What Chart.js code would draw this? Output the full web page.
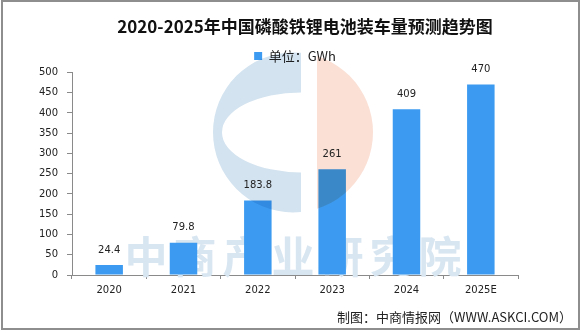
<!DOCTYPE html>
<html>
<head>
<meta charset="utf-8">
<script src="https://cdn.jsdelivr.net/npm/chart.js@4/dist/chart.umd.min.js"></script>
<style>
  body { margin: 0; background: #fff; }
  .wrap { position: relative; width: 587px; height: 334px; }
  .frame { position: absolute; left: 1px; top: 0; width: 579px; height: 330px; box-sizing: border-box; border: 2px solid #8e8e8e; pointer-events: none; }
  .source { position: absolute; right: 15px; top: 307px; font: 13px "Noto Sans CJK SC", sans-serif; color: #222; white-space: nowrap; }
</style>
</head>
<body>
<div class="wrap">
  <canvas id="chart" width="587" height="334"></canvas>
  <div class="frame"></div>
  <div class="source">制图：中商情报网（WWW.ASKCI.COM）</div>
</div>
<script>
const years = ['2020', '2021', '2022', '2023', '2024', '2025E'];
const volume = [24.4, 79.8, 183.8, 261, 409, 470];
const yTicks = [0, 50, 100, 150, 200, 250, 300, 350, 400, 450, 500];

// brand text sits under the bars, the round logo is blended over them
const watermark = {
  id: 'watermark',
  beforeDatasetsDraw(chart) {
    const { ctx, chartArea: a } = chart;
    ctx.save();
    ctx.font = 'bold 43px "Noto Sans CJK SC"';
    ctx.letterSpacing = '6px';
    ctx.textAlign = 'center';
    ctx.textBaseline = 'middle';
    ctx.fillStyle = '#d8e6f1';
    ctx.fillText('中商产业研究院', a.left + 224, a.bottom - 18);
    ctx.restore();
  },
  afterDatasetsDraw(chart) {
    const { ctx, chartArea: a } = chart;
    const cx = a.left + 221, cy = a.top + 60, r = 80;
    ctx.save();
    ctx.globalCompositeOperation = 'multiply';

    ctx.save();
    ctx.beginPath();
    ctx.rect(cx - r - 2, cy - r - 2, r + 10, 2 * r + 4);
    ctx.clip();
    ctx.beginPath();
    ctx.arc(cx, cy, r, 0, Math.PI * 2);
    ctx.ellipse(cx + 8, cy, 79, 40, 0, 0, Math.PI * 2);
    ctx.fillStyle = '#d3e3ef';
    ctx.fill('evenodd');
    ctx.restore();

    ctx.save();
    ctx.beginPath();
    ctx.rect(cx + 24, cy - r - 2, r, 2 * r + 4);
    ctx.clip();
    ctx.beginPath();
    ctx.arc(cx, cy, r, 0, Math.PI * 2);
    ctx.fillStyle = '#fae0d5';
    ctx.fill();
    ctx.restore();

    ctx.restore();
  }
};

// value printed above each bar
const barValues = {
  id: 'barValues',
  afterDatasetsDraw(chart) {
    const { ctx } = chart;
    const meta = chart.getDatasetMeta(0);
    ctx.save();
    ctx.font = '10px "DejaVu Sans"';
    ctx.fillStyle = '#222';
    ctx.textAlign = 'center';
    ctx.textBaseline = 'middle';
    meta.data.forEach((bar, i) => {
      ctx.fillText(String(volume[i]), bar.x, bar.y - 15);
    });
    ctx.restore();
  }
};

// nudge the title a little to the right so it sits over the plot
const titleShift = {
  id: 'titleShift',
  afterLayout(chart) {
    chart.titleBlock.left += 20;
  }
};

new Chart(document.getElementById('chart'), {
  type: 'bar',
  data: {
    labels: years,
    datasets: [{
      label: '单位：GWh',
      data: volume,
      backgroundColor: '#3c9bf0',
      categoryPercentage: 1,
      barPercentage: 0.37
    }]
  },
  options: {
    responsive: false,
    animation: false,
    layout: { padding: { left: 22, right: 69, top: 0, bottom: 29 } },
    plugins: {
      title: {
        display: true,
        fullSize: false,
        text: '2020-2025年中国磷酸铁锂电池装车量预测趋势图',
        color: '#111',
        font: { family: '"Noto Sans CJK SC"', size: 17, weight: 'bold' },
        padding: { top: 16, bottom: 10 }
      },
      legend: {
        fullSize: false,
        labels: {
          boxWidth: 8,
          boxHeight: 8,
          padding: 3,
          color: '#222',
          font: { family: '"Noto Sans CJK SC"', size: 13 }
        }
      },
      tooltip: { enabled: false }
    },
    scales: {
      x: {
        afterFit(scale) { scale.height = 30; },
        border: { color: '#8a8a8a' },
        grid: { drawOnChartArea: false, tickLength: 4, color: '#8a8a8a' },
        ticks: { color: '#222', padding: 5, font: { family: '"DejaVu Sans"', size: 10 } }
      },
      y: {
        min: 0,
        max: 500,
        afterFit(scale) { scale.width = 50; },
        afterBuildTicks(scale) { scale.ticks = yTicks.map(v => ({ value: v })); },
        border: { color: '#8a8a8a' },
        grid: { drawOnChartArea: false, tickLength: 5, color: '#8a8a8a' },
        ticks: { color: '#222', padding: 9, font: { family: '"DejaVu Sans"', size: 10 } }
      }
    }
  },
  plugins: [watermark, barValues, titleShift]
});
</script>
</body>
</html>
